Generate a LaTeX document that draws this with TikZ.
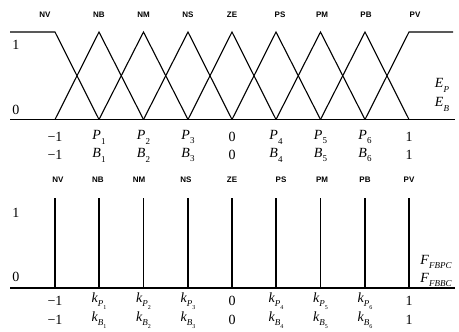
\documentclass[tikz,border=0pt]{standalone}
\usepackage{fontspec}
\setmainfont{Liberation Serif}
\newfontfamily\lblfont{Liberation Sans}
\newcommand{\subsc}[2]{\textit{#1}\raisebox{-0.35em}{\fontsize{9}{9}\selectfont #2}}
\newcommand{\kk}[2]{\textit{k}\raisebox{-0.3em}{\fontsize{9}{9}\selectfont\textit{#1}\raisebox{-0.3em}{\fontsize{6}{6}\selectfont #2}}}
\begin{document}
\begin{tikzpicture}[x=1pt,y=-1pt,
  mf/.style={line width=1.1pt},
  axis/.style={line width=1.8pt},
  spike/.style={line width=1.3pt},
  num/.style={inner sep=0pt,font=\fontsize{14}{16}\selectfont},
  setlbl/.style={inner sep=0pt,font=\lblfont\bfseries\fontsize{8}{9}\selectfont}]
\useasboundingbox (0,0) rectangle (459,332);
% tick positions
\foreach \i/\x in {0/55,1/99,2/143.5,3/188,4/232,5/276,6/320.5,7/365,8/409}{
  \coordinate (t\i) at (\x,119.5);
  \coordinate (p\i) at (\x,32);
  \coordinate (b\i) at (\x,288);
  \coordinate (s\i) at (\x,198);
}
% ===== top panel =====
\coordinate (L1) at (10,32);
\coordinate (R1) at (453,32);
\coordinate (L0) at (10,119.5);
\coordinate (R0) at (455,119.5);
\draw[axis] (L0) -- (R0);
\draw[mf] (L1) -- (p0) -- (t1);
\draw[mf] (t0) -- (p1) -- (t2);
\draw[mf] (t1) -- (p2) -- (t3);
\draw[mf] (t2) -- (p3) -- (t4);
\draw[mf] (t3) -- (p4) -- (t5);
\draw[mf] (t4) -- (p5) -- (t6);
\draw[mf] (t5) -- (p6) -- (t7);
\draw[mf] (t6) -- (p7) -- (t8);
\draw[mf] (t7) -- (p8) -- (R1);
\node[num] (one1) at (16,45) {1};
\node[num] (zero1) at (16,110) {0};
\node[num] (EP) at (442,85) {\subsc{E}{\textit{P}}};
\node[num] (EB) at (442,104) {\subsc{E}{\textit{B}}};
\foreach \n/\x in {NV/45,NB/99,NM/143.5,NS/188,ZE/232,PS/280,PM/322,PB/366,PV/415}{
  \node[setlbl] (top\n) at (\x,15) {\n};
}
\foreach \x/\a/\b in {55/−1/−1,99/\subsc{P}{1}/\subsc{B}{1},143.5/\subsc{P}{2}/\subsc{B}{2},188/\subsc{P}{3}/\subsc{B}{3},232/0/0,276/\subsc{P}{4}/\subsc{B}{4},320.5/\subsc{P}{5}/\subsc{B}{5},365/\subsc{P}{6}/\subsc{B}{6},409/1/1}{
  \node[num] at (\x,137) {\a};
  \node[num] at (\x,155) {\b};
}
% ===== bottom panel =====
\coordinate (L2) at (10,288);
\coordinate (R2) at (455,288);
\draw[axis] (L2) -- (R2);
\foreach \i in {0,...,8}{
  \draw[spike] (s\i) -- (b\i);
}
\node[num] (one2) at (16,213) {1};
\node[num] (zero2) at (16,277) {0};
\node[num] (FP) at (436,262) {\subsc{F}{\textit{FBPC}}};
\node[num] (FB) at (436,280) {\subsc{F}{\textit{FBBC}}};
\foreach \n/\x in {NV/58,NB/98,NM/139,NS/186,ZE/232,PS/281,PM/322,PB/365,PV/409}{
  \node[setlbl] (bot\n) at (\x,180) {\n};
}
\foreach \x/\a/\b in {55/−1/−1,99/\kk{P}{1}/\kk{B}{1},143.5/\kk{P}{2}/\kk{B}{2},188/\kk{P}{3}/\kk{B}{3},232/0/0,276/\kk{P}{4}/\kk{B}{4},320.5/\kk{P}{5}/\kk{B}{5},365/\kk{P}{6}/\kk{B}{6},409/1/1}{
  \node[num] at (\x,301) {\a};
  \node[num] at (\x,320) {\b};
}
\end{tikzpicture}
\end{document}
